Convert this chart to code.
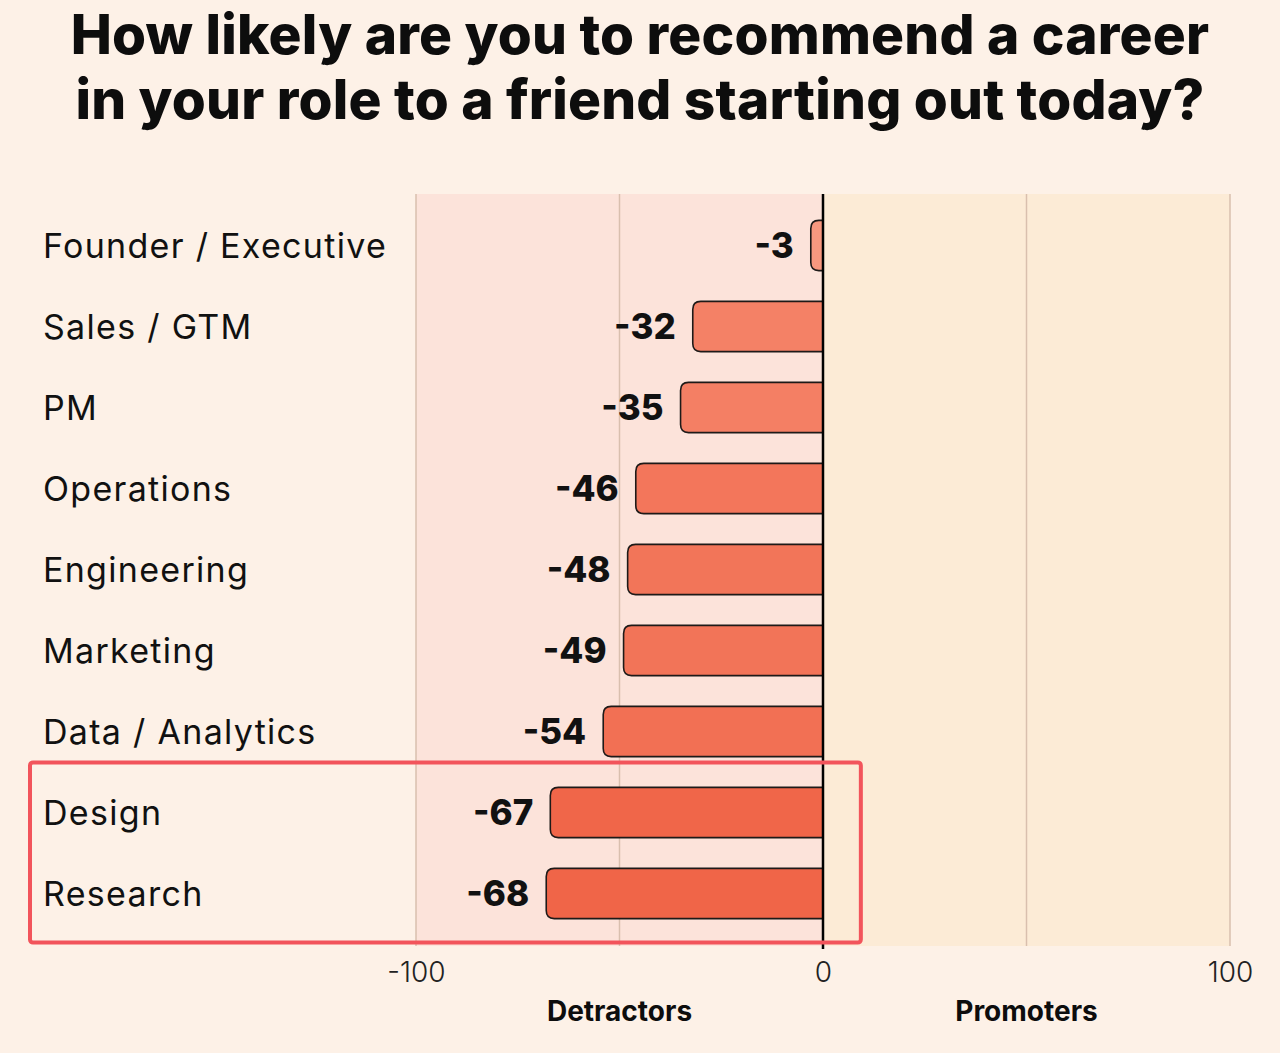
<!DOCTYPE html>
<html>
<head>
<meta charset="utf-8">
<script src="https://cdn.jsdelivr.net/npm/d3@7"></script>
<style>
    html, body { margin: 0; padding: 0; background: #fdf1e7; }
    svg { display: block; font-family: Inter, "Noto Sans", sans-serif; }
</style>
</head>
<body>
<div id="chart"></div>
<script>
"use strict";

const titleLines = [
    "How likely are you to recommend a career",
    "in your role to a friend starting out today?",
];
const roles = [
    "Founder / Executive",
    "Sales / GTM",
    "PM",
    "Operations",
    "Engineering",
    "Marketing",
    "Data / Analytics",
    "Design",
    "Research",
];
const scores = [-3, -32, -35, -46, -48, -49, -54, -67, -68];
const highlighted = ["Design", "Research"];
const tickValues = [-100, 0, 100];
const gridValues = [-100, -50, 50, 100];
const sideLabels = [
    { value: -50, text: "Detractors" },
    { value: 50, text: "Promoters" },
];

const width = 1280;
const height = 1053;
const margin = { top: 194, right: 50, bottom: 107, left: 416 };

function renderChart() {
    const svg = d3
        .select("#chart")
        .append("svg")
        .attr("width", width)
        .attr("height", height);

    svg.append("rect")
        .attr("width", width)
        .attr("height", height)
        .attr("fill", "#fdf1e7");

    // title
    svg.append("text")
        .attr("x", width / 2)
        .attr("y", 54)
        .attr("text-anchor", "middle")
        .style("font-size", "55px")
        .style("font-weight", 800)
        .style("letter-spacing", "0.2px")
        .attr("fill", "#0d0d0d")
        .selectAll("tspan")
        .data(titleLines)
        .enter()
        .append("tspan")
        .attr("x", width / 2)
        .attr("dy", (_, i) => (i === 0 ? 0 : 65))
        .text(d => d);

    const plotBottom = height - margin.bottom;

    const xScale = d3
        .scaleLinear()
        .domain([-100, 100])
        .range([margin.left, width - margin.right]);

    const yScale = d3
        .scaleBand()
        .domain(roles)
        .range([margin.top + 11, plotBottom - 12])
        .paddingInner(0.38)
        .paddingOuter(0.19);

    const colorScale = d3
        .scaleLinear()
        .domain([-3, -68])
        .range(["#f8987f", "#f06548"]);

    // background halves
    svg.append("rect")
        .attr("x", xScale(-100))
        .attr("y", margin.top)
        .attr("width", xScale(0) - xScale(-100))
        .attr("height", plotBottom - margin.top)
        .attr("fill", "#fce3da");

    svg.append("rect")
        .attr("x", xScale(0))
        .attr("y", margin.top)
        .attr("width", xScale(100) - xScale(0))
        .attr("height", plotBottom - margin.top)
        .attr("fill", "#fcebd6");

    // grid
    svg.append("g")
        .selectAll("line")
        .data(gridValues)
        .enter()
        .append("line")
        .attr("x1", d => xScale(d))
        .attr("x2", d => xScale(d))
        .attr("y1", margin.top)
        .attr("y2", plotBottom)
        .attr("stroke", "#d9bfae")
        .attr("stroke-width", 1.5);

    // category labels
    svg.append("g")
        .selectAll("text")
        .data(roles)
        .enter()
        .append("text")
        .attr("x", 43)
        .attr("y", d => yScale(d) + yScale.bandwidth() / 2)
        .attr("dy", "0.36em")
        .style("font-size", "34px")
        .style("font-weight", 400)
        .style("letter-spacing", "1.3px")
        .attr("fill", "#111")
        .text(d => d);

    // bars, rounded on the left only
    const r = 8;
    const bh = yScale.bandwidth();
    svg.append("g")
        .selectAll("path")
        .data(scores)
        .enter()
        .append("path")
        .attr("d", (d, i) => {
            const x0 = xScale(d);
            const x1 = xScale(0);
            const y0 = yScale(roles[i]);
            const rr = Math.min(r, (x1 - x0));
            return `M${x1},${y0} L${x0 + rr},${y0} Q${x0},${y0} ${x0},${y0 + rr}
                    L${x0},${y0 + bh - rr} Q${x0},${y0 + bh} ${x0 + rr},${y0 + bh}
                    L${x1},${y0 + bh} Z`;
        })
        .attr("fill", d => colorScale(d))
        .attr("stroke", "#1e1a18")
        .attr("stroke-width", 1.6);

    // value labels
    svg.append("g")
        .selectAll("text")
        .data(scores)
        .enter()
        .append("text")
        .attr("x", d => xScale(d) - 17)
        .attr("y", (_, i) => yScale(roles[i]) + bh / 2)
        .attr("dy", "0.36em")
        .attr("text-anchor", "end")
        .style("font-size", "35px")
        .style("font-weight", 800)
        .attr("fill", "#111")
        .text(d => d);

    // zero line
    svg.append("line")
        .attr("x1", xScale(0))
        .attr("x2", xScale(0))
        .attr("y1", margin.top)
        .attr("y2", plotBottom + 3)
        .attr("stroke", "#000")
        .attr("stroke-width", 2.5);

    // x axis
    const xAxis = d3
        .axisBottom(xScale)
        .tickValues(tickValues)
        .tickSize(0)
        .tickPadding(16)
        .tickFormat(d => (d < 0 ? "-" + Math.abs(d) : d));

    const axisG = svg.append("g")
        .attr("transform", `translate(0, ${plotBottom})`)
        .call(xAxis);
    axisG.select(".domain").remove();
    axisG.selectAll("text")
        .style("font-family", "Inter, sans-serif")
        .style("font-size", "28px")
        .style("font-weight", 300)
        .attr("fill", "#222");

    svg.append("g")
        .selectAll("text")
        .data(sideLabels)
        .enter()
        .append("text")
        .attr("x", d => xScale(d.value))
        .attr("y", 1021)
        .attr("text-anchor", "middle")
        .style("font-size", "28px")
        .style("font-weight", 700)
        .attr("fill", "#0d0d0d")
        .text(d => d.text);

    // highlight box around Design / Research
    const boxTop = yScale(highlighted[0]) - 25;
    const boxBottom = yScale(highlighted[highlighted.length - 1]) + bh + 24;
    svg.append("rect")
        .attr("x", 30)
        .attr("y", boxTop)
        .attr("width", xScale(9.3) - 30)
        .attr("height", boxBottom - boxTop)
        .attr("rx", 3)
        .attr("fill", "none")
        .attr("stroke", "#f2545b")
        .attr("stroke-width", 4);
}

renderChart();
</script>
</body>
</html>
